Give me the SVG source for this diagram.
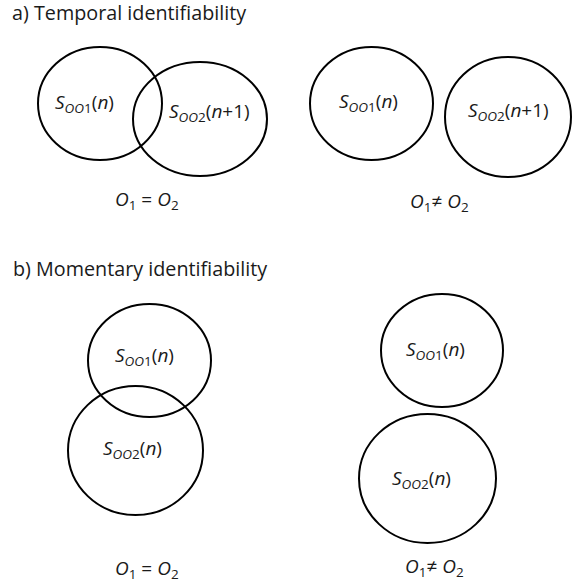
<svg xmlns="http://www.w3.org/2000/svg" width="573" height="584" viewBox="0 0 573 584">
<style>
text{font-family:"Open Sans","Liberation Sans",sans-serif;fill:#1a1a1a}
.t{font-size:19.75px}
.l{font-size:19px}
.e{font-size:19px}
.i{font-style:italic}
.s{font-size:13.5px}
ellipse{fill:none;stroke:#000;stroke-width:2}
</style>
<rect width="573" height="584" fill="#fff"/>
<text class="t" x="12" y="20">a) Temporal identifiability</text>
<text class="t" x="13" y="276">b) Momentary identifiability</text>
<g id="a-eq">
<ellipse cx="100" cy="103.5" rx="62" ry="56.5"/>
<ellipse cx="200" cy="119" rx="67" ry="57"/>
<text class="l" x="55" y="109"><tspan class="i">S</tspan><tspan class="s i" dy="4">OO</tspan><tspan class="s">1</tspan><tspan dy="-4">(</tspan><tspan class="i">n</tspan>)</text>
<text class="l" x="169" y="118"><tspan class="i">S</tspan><tspan class="s i" dy="4">OO</tspan><tspan class="s">2</tspan><tspan dy="-4">(</tspan><tspan class="i">n</tspan>+1)</text>
<text class="e" x="115" y="206"><tspan class="i">O</tspan><tspan class="s" dy="4">1</tspan><tspan dy="-4"> = </tspan><tspan class="i">O</tspan><tspan class="s" dy="4">2</tspan></text>
</g>
<g id="a-neq">
<ellipse cx="371.5" cy="103.5" rx="61.5" ry="56.5"/>
<ellipse cx="508" cy="117" rx="63" ry="60"/>
<text class="l" x="339" y="108"><tspan class="i">S</tspan><tspan class="s i" dy="4">OO</tspan><tspan class="s">1</tspan><tspan dy="-4">(</tspan><tspan class="i">n</tspan>)</text>
<text class="l" x="468" y="117"><tspan class="i">S</tspan><tspan class="s i" dy="4">OO</tspan><tspan class="s">2</tspan><tspan dy="-4">(</tspan><tspan class="i">n</tspan>+1)</text>
<text class="e" x="410" y="208"><tspan class="i">O</tspan><tspan class="s" dy="4">1</tspan><tspan dy="-4">≠ </tspan><tspan class="i">O</tspan><tspan class="s" dy="4">2</tspan></text>
</g>
<g id="b-eq">
<ellipse cx="149.5" cy="360.5" rx="61.5" ry="56.5"/>
<ellipse cx="135.5" cy="450.5" rx="67.5" ry="64.5"/>
<text class="l" x="115" y="362"><tspan class="i">S</tspan><tspan class="s i" dy="4">OO</tspan><tspan class="s">1</tspan><tspan dy="-4">(</tspan><tspan class="i">n</tspan>)</text>
<text class="l" x="103" y="455"><tspan class="i">S</tspan><tspan class="s i" dy="4">OO</tspan><tspan class="s">2</tspan><tspan dy="-4">(</tspan><tspan class="i">n</tspan>)</text>
<text class="e" x="115" y="575"><tspan class="i">O</tspan><tspan class="s" dy="4">1</tspan><tspan dy="-4"> = </tspan><tspan class="i">O</tspan><tspan class="s" dy="4">2</tspan></text>
</g>
<g id="b-neq">
<ellipse cx="442" cy="350.5" rx="61" ry="56.5"/>
<ellipse cx="427.5" cy="478.5" rx="68.5" ry="64.5"/>
<text class="l" x="406" y="356"><tspan class="i">S</tspan><tspan class="s i" dy="4">OO</tspan><tspan class="s">1</tspan><tspan dy="-4">(</tspan><tspan class="i">n</tspan>)</text>
<text class="l" x="392" y="485"><tspan class="i">S</tspan><tspan class="s i" dy="4">OO</tspan><tspan class="s">2</tspan><tspan dy="-4">(</tspan><tspan class="i">n</tspan>)</text>
<text class="e" x="405" y="573"><tspan class="i">O</tspan><tspan class="s" dy="4">1</tspan><tspan dy="-4">≠ </tspan><tspan class="i">O</tspan><tspan class="s" dy="4">2</tspan></text>
</g>
<g id="connectors"></g>
</svg>
